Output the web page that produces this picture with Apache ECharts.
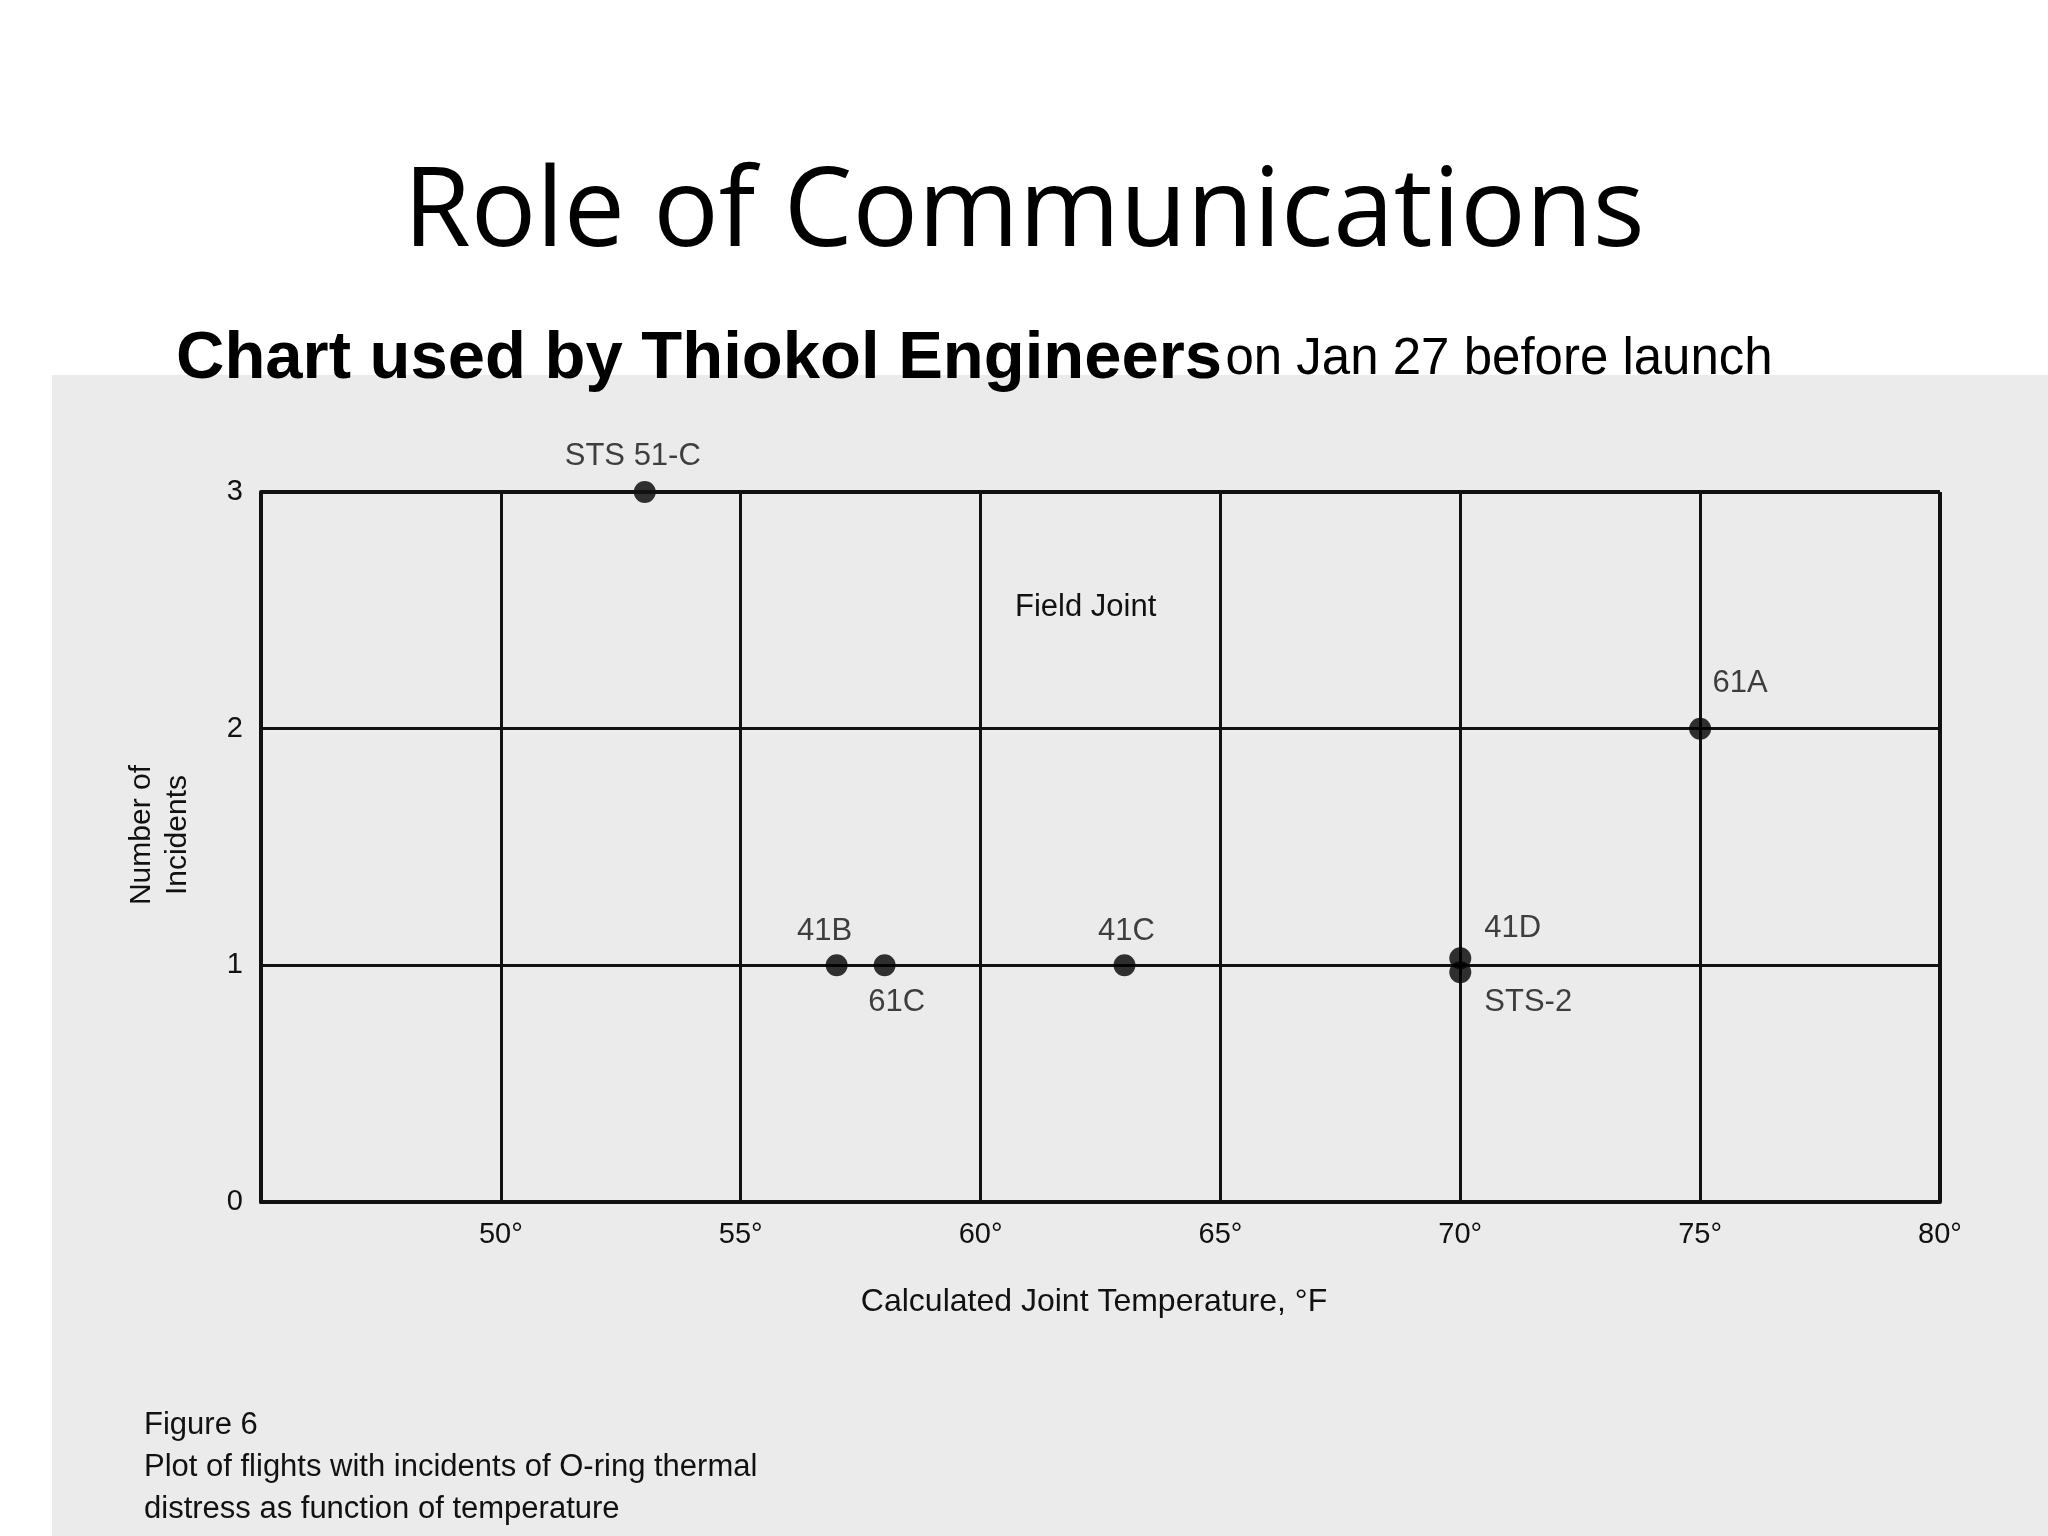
<!DOCTYPE html>
<html><head><meta charset="utf-8">
<script src="https://cdn.jsdelivr.net/npm/echarts@6/dist/echarts.min.js"></script>
<style>html,body{margin:0;padding:0;background:#fff}#c{width:2048px;height:1536px}</style>
</head><body><div id="c"></div>
<script>
// flights with O-ring incidents: [temperature °F, incidents]
const flightNames = ['STS 51-C', '41B', '61C', '41C', '41D', 'STS-2', '61A'];
const temps = [53, 57, 58, 63, 70, 70, 75];
const incidents = [3, 1, 1, 1, 1, 1, 2];
const xTicks = [45, 50, 55, 60, 65, 70, 75, 80];
const yTicks = [0, 1, 2, 3];

// label placement per flight
const labelPos = {
  'STS 51-C': { position: 'top', offset: [-12, -4] },
  '41B': { position: 'top', offset: [-12, -2] },
  '61C': { position: 'bottom', offset: [12, 6] },
  '41C': { position: 'top', offset: [2, -2] },
  '41D': { position: 'right', offset: [8, -30] },
  'STS-2': { position: 'right', offset: [8, 30] },
  '61A': { position: 'top', offset: [40, -14] }
};
const symOff = { '41D': [0, -7], 'STS-2': [0, 7] };

const font = '"Liberation Sans", Arial, sans-serif';
const chart = echarts.init(document.getElementById('c'));
chart.setOption({
  animation: false,
  graphic: [
    { type: 'rect', z: -10, shape: { x: 52, y: 375, width: 2000, height: 1170 }, style: { fill: '#ebebeb' } },
    { type: 'text', left: 'center', top: 160, style: { text: 'Role of Communications', font: '109px "Open Sans", "Noto Sans", sans-serif', fill: '#000' } },
    { type: 'text', left: 176, top: 326, style: { rich: { b: { font: 'bold 67px ' + font, fill: '#000' }, n: { font: '51px ' + font, fill: '#000' } }, text: '{b|Chart used by Thiokol Engineers} {n|on Jan 27 before launch}' } },
    { type: 'text', left: 1015, top: 592, style: { text: 'Field Joint', font: '31px ' + font, fill: '#111' } },
    { type: 'text', style: { x: 1094, y: 1286, text: 'Calculated Joint Temperature, °F', font: '32px ' + font, fill: '#111', textAlign: 'center' } },
    { type: 'text', left: 124, top: 765, rotation: Math.PI / 2, style: { text: 'Number of\nIncidents', font: '30px ' + font, fill: '#111', textAlign: 'center', lineHeight: 36 } },
    { type: 'text', left: 144, top: 1404, style: { text: 'Figure 6\nPlot of flights with incidents of O-ring thermal\ndistress as function of temperature', font: '31px ' + font, fill: '#111', lineHeight: 42 } }
  ],
  grid: { left: 261, right: 108, top: 492, bottom: 334 },
  xAxis: {
    type: 'value', min: 45, max: 80, interval: 5,
    axisLine: { show: true, lineStyle: { color: '#111', width: 4 } },
    axisTick: { show: false },
    splitLine: { show: true, lineStyle: { color: '#111', width: 3 } },
    axisLabel: { margin: 18, fontSize: 29, fontFamily: font, color: '#111', formatter: v => v === 45 ? '' : v + '°' }
  },
  yAxis: {
    type: 'value', min: 0, max: 3, interval: 1,
    axisLine: { show: true, lineStyle: { color: '#111', width: 4 } },
    axisTick: { show: false },
    splitLine: { show: true, lineStyle: { color: '#111', width: 3 } },
    axisLabel: { margin: 18, fontSize: 29, fontFamily: font, color: '#111', formatter: v => yTicks.includes(v) ? String(v) : '' }
  },
  series: [{
    type: 'scatter', symbolSize: 22, itemStyle: { color: '#000' },
    data: flightNames.map((n, i) => ({
      name: n, value: [temps[i], incidents[i]],
      symbolOffset: symOff[n] || [0, 0],
      label: Object.assign({ show: true, formatter: n, fontSize: 31, fontFamily: font, color: '#111' }, labelPos[n])
    }))
  }, {
    // right border of frame
    type: 'line', data: [[80, 0], [80, 3]], symbol: 'none', lineStyle: { color: '#111', width: 4 }, silent: true
  }, {
    type: 'line', data: [[45, 3], [80, 3]], symbol: 'none', lineStyle: { color: '#111', width: 4 }, silent: true
  }]
});
</script></body></html>
